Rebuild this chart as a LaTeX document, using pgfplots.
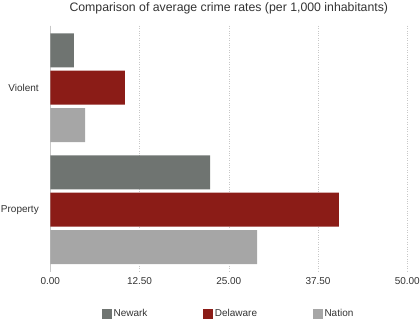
\documentclass[border=0pt]{standalone}
\usepackage{fontspec}
\setmainfont{Liberation Sans}
\usepackage{pgfplots}
\pgfplotsset{compat=1.18}
\definecolor{newark}{HTML}{6F7471}
\definecolor{delaware}{HTML}{8B1C17}
\definecolor{nation}{HTML}{A6A6A6}
\definecolor{txt}{HTML}{333333}
\definecolor{gridc}{HTML}{C8C8C8}
\begin{document}
\begin{tikzpicture}[x=1pt,y=1pt]
\useasboundingbox (0,0) rectangle (420,-320);
\begin{axis}[
  at={(50.3pt,-271.7pt)}, anchor=south west,
  scale only axis, width=357pt, height=246pt,
  xmin=0, xmax=50, ymin=-0.508, ymax=1.508, y dir=reverse,
  xtick={0,12.5,25,37.5,50},
  /pgf/number format/assume math mode=true,
  xticklabel style={/pgf/number format/fixed, /pgf/number format/fixed zerofill, /pgf/number format/precision=2, yshift=-2pt},
  ytick={0,1}, yticklabels={Violent,Property},
  yticklabel style={xshift=-8pt},
  axis lines*=left, separate axis lines,
  x axis line style={draw=none},
  y axis line style={draw=gridc, line width=0.8pt},
  major tick length=0pt,
  xmajorgrids, grid style={dotted, draw=gridc, line width=0.5pt},
  xbar, bar width=0.279,
  tick label style={font=\fontsize{10}{12}\selectfont, text=txt},
  legend style={at={(0.5,-0.172)}, anchor=center, draw=none, fill=none, legend columns=3,
    font=\fontsize{10}{12}\selectfont, text=txt,
    /tikz/every even column/.append style={column sep=54pt}},
  legend image code/.code={\fill[#1] (-3pt,-4.7pt) rectangle (6.4pt,4.7pt);},
]
\addplot[fill=newark, draw=none, bar shift=-0.306] coordinates {(3.3,0) (22.37,1)};
\addplot[fill=delaware, draw=none, bar shift=0] coordinates {(10.46,0) (40.43,1)};
\addplot[fill=nation, draw=none, bar shift=0.306] coordinates {(4.86,0) (28.95,1)};
\legend{Newark,Delaware,Nation}
\end{axis}
\node[text=txt, font=\fontsize{12.3}{14}\selectfont] at (228.8,-8.5) {Comparison of average crime rates (per 1,000 inhabitants)};
\end{tikzpicture}
\end{document}
